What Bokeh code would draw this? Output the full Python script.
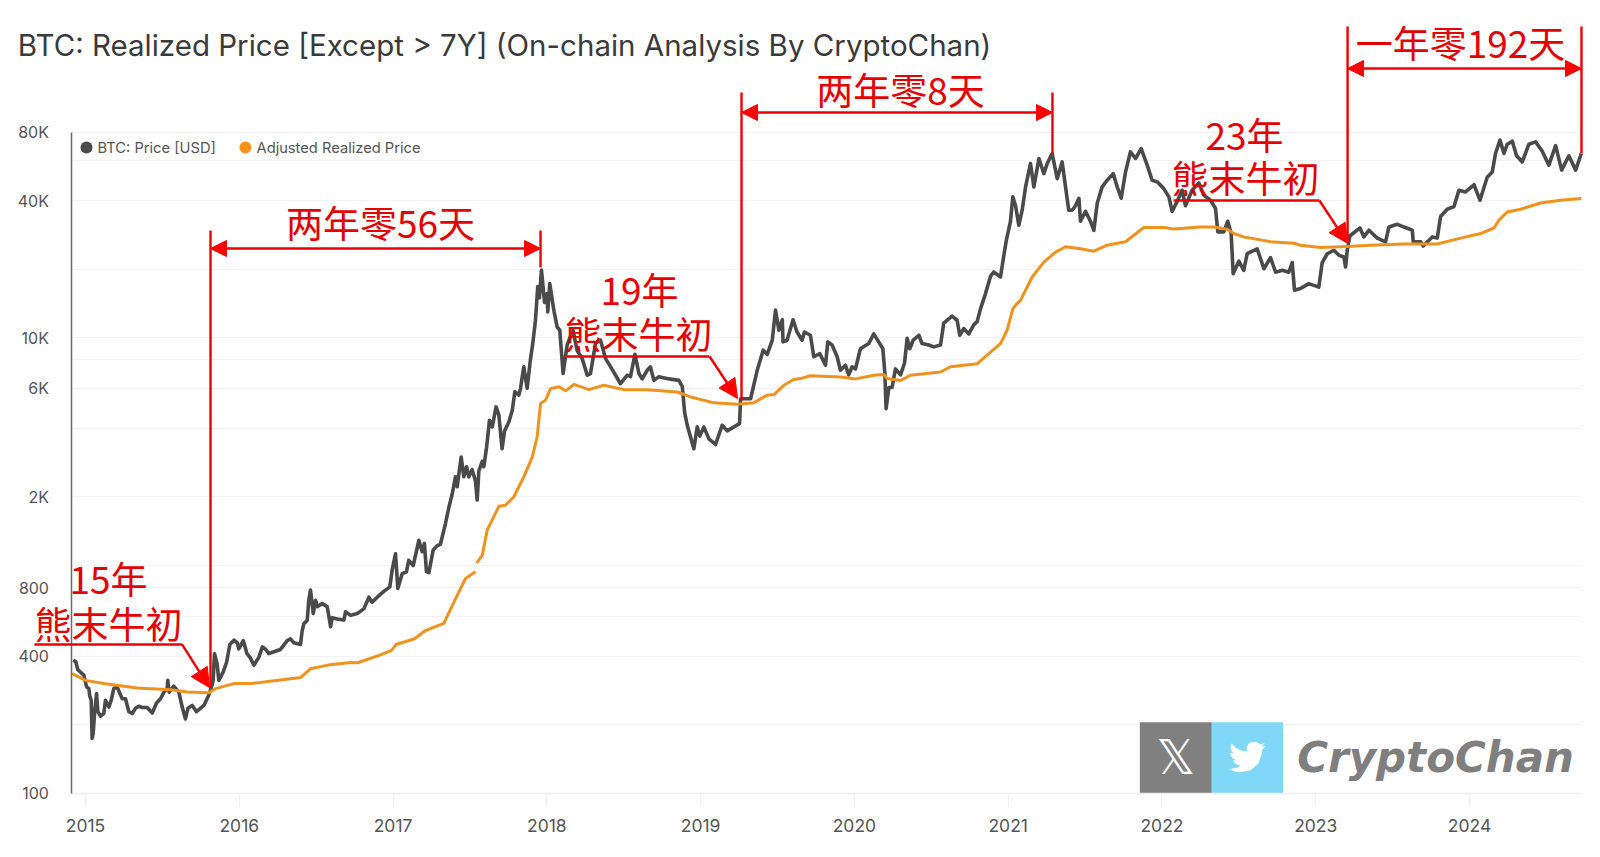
from bokeh.embed import file_html
from bokeh.resources import INLINE
from bokeh.plotting import figure
from bokeh.core.properties import value
from bokeh.models import (Arrow, NormalHead, ColumnDataSource, FixedTicker, Label, Range1d, LabelSet)

nan = float("nan")

TITLE = "BTC: Realized Price [Except > 7Y] (On-chain Analysis By CryptoChan)"
YEAR_TICKS = [2015, 2016, 2017, 2018, 2019, 2020, 2021, 2022, 2023, 2024]
PRICE_TICKS = [100, 400, 800, 2000, 6000, 10000, 40000, 80000]
PRICE_LABELS = ["100", "400", "800", "2K", "6K", "10K", "40K", "80K"]
GRID_PRICES = [100, 200, 400, 600, 800, 1000, 2000, 4000, 6000, 8000, 10000, 20000, 40000, 60000, 80000]
LEGEND_NAMES = ["BTC: Price [USD]", "Adjusted Realized Price"]
LEGEND_COLORS = ["#4a4a4a", "#f7931a"]

# BTC price: (decimal year, USD)
btc_2015 = [(2014.92,384),(2014.937,378),(2014.95,349),(2014.968,340),(2014.989,330),(2015.007,293),(2015.022,288),(2015.028,267),(2015.037,256),(2015.043,174),(2015.05,183),(2015.059,224),(2015.072,274),(2015.08,229),(2015.098,218),(2015.119,224),(2015.13,256),(2015.152,239),(2015.167,256),(2015.184,288),(2015.206,293),(2015.228,270),(2015.239,260),(2015.26,260),(2015.282,228),(2015.304,224),(2015.325,236),(2015.347,241),(2015.369,238),(2015.401,238),(2015.434,225),(2015.462,249),(2015.488,260),(2015.51,278),(2015.531,288),(2015.535,313),(2015.544,278),(2015.574,295),(2015.607,278),(2015.629,239),(2015.65,212),(2015.666,236),(2015.694,243),(2015.722,228),(2015.77,243),(2015.802,270),(2015.824,300),(2015.83,313),(2015.839,410),(2015.856,370),(2015.867,313),(2015.895,340),(2015.917,375),(2015.939,450),(2015.965,470),(2015.987,458),(2015.997,430)]
btc_2016 = [(2016.026,468),(2016.05,410),(2016.07,395),(2016.095,365),(2016.127,395),(2016.15,439),(2016.17,430),(2016.192,410),(2016.225,418),(2016.268,428),(2016.312,468),(2016.333,476),(2016.355,458),(2016.398,450),(2016.409,517),(2016.42,555),(2016.442,575),(2016.452,704),(2016.463,780),(2016.481,616),(2016.496,704),(2016.507,659),(2016.539,680),(2016.572,659),(2016.594,539),(2016.604,590),(2016.637,582),(2016.68,576),(2016.691,626),(2016.724,604),(2016.767,616),(2016.81,645),(2016.843,726),(2016.864,690),(2016.897,726),(2016.94,770),(2016.979,806),(2016.995,965)]
btc_2017 = [(2017.016,1125),(2017.031,792),(2017.059,921),(2017.087,938),(2017.102,1054),(2017.131,1000),(2017.168,1291),(2017.189,1150),(2017.204,1250),(2017.217,940),(2017.233,930),(2017.261,1170),(2017.287,1220),(2017.308,1240),(2017.341,1530),(2017.363,1800),(2017.384,2050),(2017.406,2452),(2017.417,2220),(2017.443,2994),(2017.46,2452),(2017.478,2715),(2017.493,2452),(2017.514,2640),(2017.536,2350),(2017.547,1939),(2017.558,2600),(2017.58,2870),(2017.59,2715),(2017.608,3300),(2017.627,4346),(2017.645,4064),(2017.67,4971),(2017.688,4590),(2017.709,3257),(2017.725,3900),(2017.753,4270),(2017.775,4800),(2017.792,5800),(2017.818,5600),(2017.829,6000),(2017.85,7456),(2017.872,6000),(2017.894,8100),(2017.909,9500),(2017.926,11950),(2017.941,16800),(2017.952,15000),(2017.965,19825),(2017.985,14300)]
btc_2018 = [(2018.002,15650),(2018.006,13000),(2018.019,17325),(2018.045,13250),(2018.067,11170),(2018.084,10800),(2018.106,6967),(2018.132,9300),(2018.17,10800),(2018.197,8800),(2018.23,8100),(2018.263,6850),(2018.284,6967),(2018.317,9500),(2018.349,9763),(2018.382,8100),(2018.415,7456),(2018.447,6850),(2018.479,6285),(2018.523,6850),(2018.544,6748),(2018.573,8460),(2018.599,6967),(2018.62,6600),(2018.653,7200),(2018.674,7456),(2018.696,6500),(2018.729,6748),(2018.794,6600),(2018.859,6500),(2018.881,6100),(2018.896,4700),(2018.913,4130),(2018.928,3798),(2018.956,3257),(2018.978,4064),(2018.995,3700)]
btc_2019 = [(2019.021,4064),(2019.054,3600),(2019.097,3400),(2019.14,4130),(2019.173,3900),(2019.253,4197),(2019.26,5400),(2019.325,5400),(2019.368,7200),(2019.407,8822),(2019.433,8460),(2019.466,9763),(2019.487,13230),(2019.509,10800),(2019.531,12000),(2019.536,9595),(2019.562,9758),(2019.601,12000),(2019.627,10600),(2019.66,9758),(2019.675,10600),(2019.714,10260),(2019.736,8256),(2019.775,8524),(2019.812,7580),(2019.827,9595),(2019.855,9300),(2019.888,8256),(2019.909,7200),(2019.942,7580),(2019.963,6870),(2019.985,7459)]
btc_2020 = [(2020.007,7300),(2020.039,8950),(2020.093,9433),(2020.126,10400),(2020.158,9595),(2020.185,8950),(2020.198,7000),(2020.206,4883),(2020.224,6050),(2020.245,6050),(2020.267,7300),(2020.3,6870),(2020.326,7750),(2020.343,9950),(2020.36,8950),(2020.382,9758),(2020.419,10260),(2020.44,9433),(2020.484,9300),(2020.516,9122),(2020.56,9300),(2020.581,11600),(2020.635,12450),(2020.668,11945),(2020.685,10260),(2020.711,10980),(2020.744,10400),(2020.776,11400),(2020.798,11780),(2020.82,13400),(2020.852,15600),(2020.885,18600),(2020.906,19450),(2020.95,18500),(2020.972,23050),(2020.989,27000)]
btc_2021 = [(2021.015,32500),(2021.03,41570),(2021.048,38000),(2021.069,31200),(2021.091,36330),(2021.113,46000),(2021.145,58240),(2021.167,46000),(2021.2,61300),(2021.232,52600),(2021.254,58240),(2021.286,64460),(2021.319,50000),(2021.351,59200),(2021.373,46000),(2021.394,36330),(2021.416,36330),(2021.438,38000),(2021.46,41000),(2021.47,32500),(2021.503,35900),(2021.535,32500),(2021.557,29600),(2021.579,39000),(2021.611,46000),(2021.644,49220),(2021.683,52600),(2021.709,46000),(2021.735,41000),(2021.763,53500),(2021.795,65500),(2021.828,61300),(2021.865,67800),(2021.904,57300),(2021.936,49220),(2021.969,48400)]
btc_2022 = [(2022.012,45200),(2022.045,41570),(2022.066,35900),(2022.099,39750),(2022.131,44460),(2022.153,38000),(2022.196,44460),(2022.24,47900),(2022.272,42300),(2022.316,40200),(2022.348,37000),(2022.363,29200),(2022.402,29200),(2022.428,32500),(2022.45,28700),(2022.463,19130),(2022.5,21700),(2022.532,19790),(2022.554,23400),(2022.619,24600),(2022.663,20100),(2022.706,22500),(2022.739,19400),(2022.782,19790),(2022.825,19400),(2022.847,21400),(2022.862,16170),(2022.901,16450),(2022.955,17300)]
btc_2023 = [(2023.02,16700),(2023.042,21400),(2023.075,23400),(2023.118,24235),(2023.151,23050),(2023.183,22650),(2023.194,20460),(2023.205,24235),(2023.222,28000),(2023.287,30400),(2023.313,27740),(2023.346,29680),(2023.4,27400),(2023.454,26400),(2023.476,30680),(2023.53,31500),(2023.628,29680),(2023.634,26400),(2023.682,26400),(2023.699,25300),(2023.758,27740),(2023.79,27400),(2023.812,34100),(2023.855,36700),(2023.899,37700),(2023.931,44460),(2023.974,43700)]
btc_2024 = [(2024.029,47000),(2024.068,40200),(2024.115,50700),(2024.148,53500),(2024.169,64460),(2024.198,73800),(2024.224,64460),(2024.245,70800),(2024.278,73000),(2024.306,63000),(2024.343,59200),(2024.386,70800),(2024.43,72500),(2024.473,66000),(2024.516,57300),(2024.56,69800),(2024.599,54500),(2024.646,63000),(2024.69,54500),(2024.727,64460)]

# adjusted realized price; the nan is the gap seen in mid 2017
rp_2015 = [(2014.913,335),(2015.0,313),(2015.119,303),(2015.336,290),(2015.553,285),(2015.661,278),(2015.802,276),(2015.846,288),(2015.965,303)]
rp_2016 = [(2016.073,303),(2016.398,322),(2016.463,352),(2016.593,367),(2016.724,375),(2016.77,374),(2016.91,403),(2016.99,424)]
rp_2017 = [(2017.02,450),(2017.14,477),(2017.21,518),(2017.33,557),(2017.406,713),(2017.471,877),(2017.536,938),(2017.54,nan),(2017.543,1024),(2017.58,1108),(2017.612,1430),(2017.688,1820),(2017.731,1840),(2017.785,2000),(2017.85,2452),(2017.905,2994),(2017.937,3673),(2017.959,5142),(2017.991,5318)]
rp_2018 = [(2018.024,5980),(2018.078,6096),(2018.122,5850),(2018.176,6240),(2018.273,5920),(2018.371,6185),(2018.501,5920),(2018.653,5920),(2018.848,5780),(2018.935,5500)]
rp_2019 = [(2019.086,5180),(2019.238,5110),(2019.347,5190),(2019.433,5600),(2019.477,5630),(2019.541,6185),(2019.606,6560),(2019.65,6620),(2019.714,6815),(2019.909,6726)]
rp_2020 = [(2020.007,6600),(2020.126,6850),(2020.191,6900),(2020.213,6630),(2020.3,6490),(2020.364,6850),(2020.56,7075),(2020.625,7459),(2020.798,7690),(2020.874,8524),(2020.95,9433),(2020.993,10790)]
rp_2021 = [(2021.03,13400),(2021.058,14140),(2021.08,14600),(2021.113,16170),(2021.156,18500),(2021.232,21500),(2021.308,23800),(2021.373,25100),(2021.47,24600),(2021.557,24000),(2021.644,25500),(2021.763,26400),(2021.882,30500)]
rp_2022 = [(2022.012,30500),(2022.077,30080),(2022.25,30680),(2022.337,30680),(2022.424,30000),(2022.467,28700),(2022.532,27740),(2022.576,27400),(2022.706,26400),(2022.858,26000),(2022.901,25500)]
rp_2023 = [(2023.031,24900),(2023.205,25200),(2023.357,25500),(2023.573,25800),(2023.79,25800),(2023.942,27400)]
rp_2024 = [(2024.072,28700),(2024.159,30350),(2024.191,32850),(2024.245,35700),(2024.332,36700),(2024.462,39100),(2024.592,40200),(2024.727,40900)]

# annotations, in date/price units
brace_start = [2015.813, 2019.266, 2023.207]
brace_end = [2017.959, 2021.288, 2024.728]
brace_price = [24670, 97600, 152300]
brace_top = [29600, 119400, 232900]
brace_low_left = [291, 5304, 26200]
brace_low_right = [20360, 64500, 64500]
brace_text = ["两年零56天", "两年零8天", "一年零192天"]
brace_text_x = [2016.918, 2020.30, 2023.941]
brace_text_y = [32400, 124200, 200000]

call_x0 = [2014.668, 2018.115, 2022.075]
call_x1 = [2015.628, 2019.058, 2023.024]
call_x2 = [2015.806, 2019.24, 2023.207]
call_y0 = [450, 8276, 40090]
call_y2 = [291, 5412, 26000]
call_year = ["15年", "19年", "23年"]
call_year_x = [2015.15, 2018.603, 2022.537]
call_year_y = [885, 16450, 78900]
call_text = ["熊末牛初", "熊末牛初", "熊末牛初"]
call_text_x = [2015.15, 2018.596, 2022.543]
call_text_y = [561, 10550, 51050]

X_VIEW = (2014.4473, 2024.7997)
Y_VIEW = (56.6, 302900)
X_AXIS_SPAN = (2014.912, 2024.728)
Y_AXIS_SPAN = (100, 80000)

# outline of the bird icon, 24-unit box
BIRD_X = [23.95,21.13,23.29,20.16,19.2,17.8,16.0,14.2,12.8,11.8,11.4,11.78,8,4.5,1.64,0.97,1.4,3.16,0.93,0.93,1.3,2.3,4.88,2.67,4.0,7.27,5.3,1.17,0,3.6,7.56,14,19,21.55,21.55,21.53,24]
BIRD_Y = [4.57,5.35,2.62,3.80,2.9,2.2,1.95,2.3,3.3,4.8,6.3,8.29,7.6,5.9,3.16,5.64,7.7,9.73,9.12,9.18,11.2,12.6,14.0,14.09,16.3,17.5,18.9,19.6,19.54,21.2,21.75,20.5,16.3,9.0,7.75,7.12,4.59]

RED = "#ee0000"
TEXT = "#555555"
FONT = "Inter"
CJK = "Noto Sans CJK SC"

btc = btc_2015 + btc_2016 + btc_2017 + btc_2018 + btc_2019 + btc_2020 + btc_2021 + btc_2022 + btc_2023 + btc_2024
rp = rp_2015 + rp_2016 + rp_2017 + rp_2018 + rp_2019 + rp_2020 + rp_2021 + rp_2022 + rp_2023 + rp_2024
btc_t, btc_p = [a for a, _ in btc], [b for _, b in btc]
rp_t, rp_p = [a for a, _ in rp], [b for _, b in rp]

p = figure(width=1592, height=849, output_backend="svg", toolbar_location=None,
           y_axis_type="log", x_range=Range1d(*X_VIEW), y_range=Range1d(*Y_VIEW),
           min_border=0,
           background_fill_color="white", border_fill_color="white", outline_line_color=None)

p.xgrid.visible = False
p.ygrid.ticker = FixedTicker(ticks=GRID_PRICES)
p.ygrid.cross_bounds = X_AXIS_SPAN
p.ygrid.grid_line_color = "#f2f2f2"
p.ygrid.grid_line_width = 1

p.xaxis.fixed_location = Y_AXIS_SPAN[0]
p.xaxis.bounds = X_AXIS_SPAN
p.xaxis.ticker = FixedTicker(ticks=YEAR_TICKS)
p.xaxis.major_label_overrides = {y: str(y) for y in YEAR_TICKS}
p.xaxis.axis_line_color = "#eeeeee"
p.xaxis.axis_line_width = 1.5
p.xaxis.major_tick_line_color = "#eeeeee"
p.xaxis.major_tick_out = 13
p.xaxis.major_tick_in = 0
p.xaxis.minor_tick_line_color = None
p.xaxis.major_label_text_font = FONT
p.xaxis.major_label_text_font_size = "17.5px"
p.xaxis.major_label_text_color = TEXT
p.xaxis.major_label_standoff = 13

p.yaxis.fixed_location = X_AXIS_SPAN[0]
p.yaxis.bounds = Y_AXIS_SPAN
p.yaxis.ticker = FixedTicker(ticks=PRICE_TICKS)
p.yaxis.major_label_overrides = dict(zip(PRICE_TICKS, PRICE_LABELS))
p.yaxis.axis_line_color = "#6a6a6a"
p.yaxis.axis_line_width = 1.5
p.yaxis.major_tick_line_color = None
p.yaxis.minor_tick_line_color = None
p.yaxis.major_label_text_font = FONT
p.yaxis.major_label_text_font_size = "16px"
p.yaxis.major_label_text_color = TEXT
p.yaxis.major_label_standoff = 17

# watermark
p.quad(left=[2021.856], right=[2022.324], top=[205], bottom=[100], fill_color="#808080", line_color=None)
p.quad(left=[2022.324], right=[2022.788], top=[205], bottom=[100], fill_color="#7fd8f8", line_color=None)
p.patch([2022.556 + (bx - 12) * 1.54 / 153.78 for bx in BIRD_X],
        [143.9 * 10 ** ((12 - by) * 1.54 / 227.7) for by in BIRD_Y],
        fill_color="white", line_color=None)
p.text(x=[2022.09], y=[143.9], text=["𝕏"], text_color="white", text_font=value("DejaVu Sans"),
       text_font_size="48px", text_align="center", text_baseline="middle")
p.text(x=[2022.879], y=[143.9], text=["CryptoChan"], text_color="#7f7f7f", text_font=value("DejaVu Sans"),
       text_font_style="bold italic", text_font_size="42px", text_align="left", text_baseline="middle")

btc_r = p.line(btc_t, btc_p, line_color="#4a4a4a", line_width=3.6, line_join="round")
rp_r = p.line(rp_t, rp_p, line_color="#f0921e", line_width=3, line_join="round")

# legend row placed as in the reference
LEGEND_Y = 68500
LEGEND_DOT_X = [2015.0065, 2016.04]
LEGEND_TEXT_X = [2015.078, 2016.112]
p.scatter(LEGEND_DOT_X, [LEGEND_Y, LEGEND_Y], marker="circle", size=12, fill_color=LEGEND_COLORS, line_color=None)
p.text(x=LEGEND_TEXT_X, y=[LEGEND_Y, LEGEND_Y], text=LEGEND_NAMES, text_color=TEXT, text_font=value(FONT),
       text_font_size="14.7px", text_align="left", text_baseline="middle")

# title
p.add_layout(Label(x=2014.56, y=193000, text=TITLE, text_font=FONT, text_font_style="normal",
                   text_font_size="29.5px", text_color="#3a3a3a", text_baseline="middle"))

# red annotations
head = lambda s: NormalHead(size=s, fill_color="#ff0000", line_color="#ff0000", line_width=1)
lines = dict(line_color=RED, line_width=2.4)
def seg(x0, y0, x1, y1, **kw):
    p.add_layout(Arrow(source=ColumnDataSource(dict(x0=x0, y0=y0, x1=x1, y1=y1)),
                       x_start="x0", y_start="y0", x_end="x1", y_end="y1", **lines, **kw))

seg(brace_start, brace_top, brace_start, brace_low_left, end=None)
seg(brace_end, brace_top, brace_end, brace_low_right, end=None)
seg(brace_start, brace_price, brace_end, brace_price, start=head(16), end=head(16))
seg(call_x0, call_y0, call_x1, call_y0, end=None)
seg(call_x1, call_y0, call_x2, call_y2, end=head(19))

for tx, xs, ys in [(brace_text, brace_text_x, brace_text_y),
                   (call_year, call_year_x, call_year_y),
                   (call_text, call_text_x, call_text_y)]:
    p.add_layout(LabelSet(source=ColumnDataSource(dict(x=xs, y=ys, t=tx)), x="x", y="y", text="t",
                          text_color="#e60000", text_font=value(CJK), text_font_size="37px",
                          text_align="center", text_baseline="middle"))

open("out.html", "w").write(file_html(p, INLINE))
